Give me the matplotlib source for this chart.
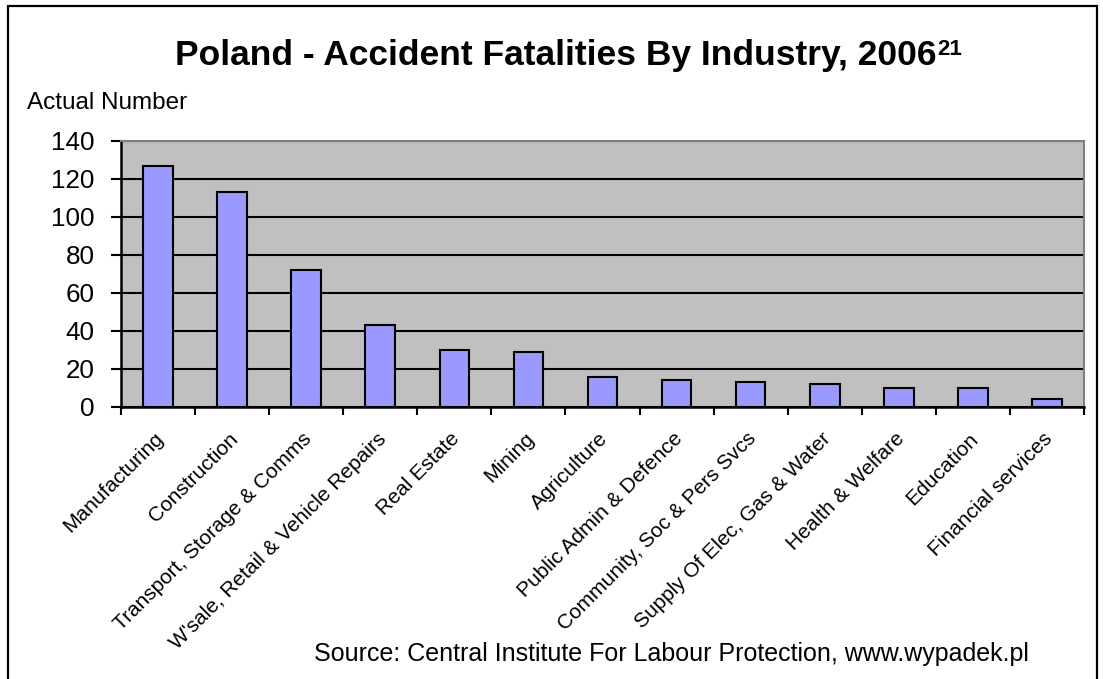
import matplotlib
matplotlib.use("Agg")
import matplotlib.pyplot as plt
from matplotlib.patches import Rectangle
from matplotlib.ticker import FixedLocator, NullFormatter
from matplotlib.transforms import ScaledTranslation
import numpy as np

categories = ["Manufacturing", "Construction", "Transport, Storage & Comms",
              "W'sale, Retail & Vehicle Repairs", "Real Estate", "Mining",
              "Agriculture", "Public Admin & Defence", "Community, Soc & Pers Svcs",
              "Supply Of Elec, Gas & Water", "Health & Welfare", "Education",
              "Financial services"]
values = [127, 113, 72, 43, 30, 29, 16, 14, 13, 12, 10, 10, 4]
yticks = [0, 20, 40, 60, 80, 100, 120, 140]

plt.rcParams['font.family'] = ['Liberation Sans', 'DejaVu Sans']

W, H = 1103, 679
fig = plt.figure(figsize=(W / 100, H / 100), dpi=100)
fig.patch.set_facecolor('white')

ax = fig.add_axes([121 / W, 1 - 407 / H, (1084 - 121) / W, (407 - 141) / H])
ax.set_facecolor('#C0C0C0')

x = np.arange(len(categories))
ax.bar(x, values, width=0.4, color='#9999FF', edgecolor='black', linewidth=1.5, zorder=3)

ax.set_xlim(-0.5, len(categories) - 0.5)
ax.set_ylim(0, 140)
ax.set_yticks(yticks)
ax.yaxis.grid(True, color='black', linewidth=1.5, zorder=1)
ax.set_axisbelow(True)

ax.set_xticks(x)
ax.set_xticklabels(categories, rotation=45, ha='right', rotation_mode='anchor', fontsize=15)
ax.tick_params(axis='x', which='major', length=0, pad=18)
off = ScaledTranslation(-4 / 100, 3 / 100, fig.dpi_scale_trans)
for lab in ax.get_xticklabels():
    lab.set_transform(lab.get_transform() + off)
ax.xaxis.set_minor_locator(FixedLocator(np.arange(-0.5, len(categories), 1.0)))
ax.xaxis.set_minor_formatter(NullFormatter())
ax.tick_params(axis='x', which='minor', length=6, width=1.5, direction='out', color='black')
ax.tick_params(axis='y', length=7, width=1.5, direction='out', labelsize=18.7, pad=12)

for s in ['left', 'bottom']:
    ax.spines[s].set_color('black')
    ax.spines[s].set_linewidth(1.8)
for s in ['top', 'right']:
    ax.spines[s].set_color('#808080')
    ax.spines[s].set_linewidth(1.5)

title = fig.text(556 / W, 1 - 65 / H, "Poland - Accident Fatalities By Industry, 2006",
                 ha='center', va='baseline', fontsize=25.5, fontweight='bold')
fig.canvas.draw()
bb = title.get_window_extent(renderer=fig.canvas.get_renderer())
fig.text((bb.x1 + 1) / W, 1 - 55 / H, "21", ha='left', va='baseline', fontsize=16, fontweight='bold')

fig.text(27 / W, 1 - 103 / H, "Actual Number", ha='left', va='center', fontsize=17.5)
fig.text(314 / W, 1 - 654 / H, "Source: Central Institute For Labour Protection, www.wypadek.pl",
         ha='left', va='center', fontsize=18)

fig.add_artist(Rectangle((8 / W, -0.2), (1097 - 8) / W, 1.2 - 6 / H,
                         transform=fig.transFigure, fill=False,
                         edgecolor='black', linewidth=1.6, clip_on=False))

fig.savefig("out.png", dpi=100)
